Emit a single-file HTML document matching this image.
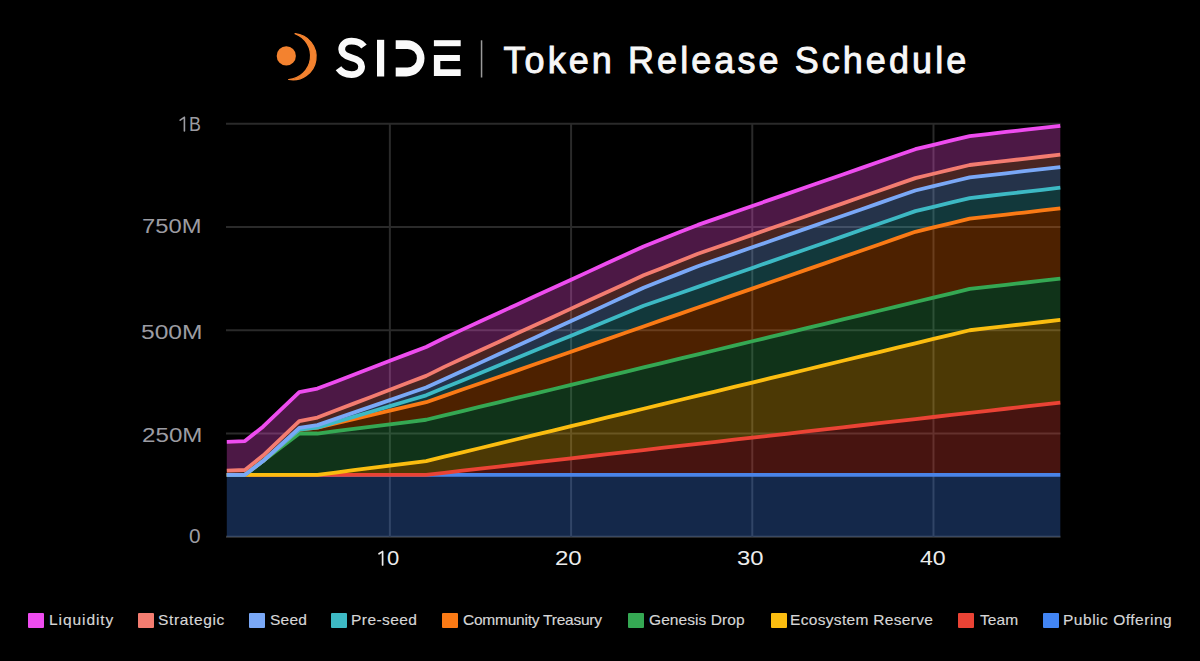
<!DOCTYPE html>
<html><head><meta charset="utf-8">
<style>
html,body{margin:0;padding:0;background:#000;}
body{width:1200px;height:661px;position:relative;overflow:hidden;font-family:"Liberation Sans",sans-serif;}
svg{position:absolute;left:0;top:0;}
.yl{position:absolute;color:#9c9ca2;font-size:20px;line-height:20px;white-space:nowrap;transform-origin:0 0;}
.xl{position:absolute;top:548px;color:#ececec;font-size:20px;line-height:20px;white-space:nowrap;transform-origin:0 0;}
.lb{position:absolute;top:612.5px;width:16px;height:15.5px;border-radius:1px;}
.lt{position:absolute;top:613.3px;color:#d6d6d6;font-size:14.5px;line-height:14.5px;white-space:nowrap;-webkit-text-stroke:0.15px #d6d6d6;transform:scaleX(1.07);transform-origin:0 0;}
.title{position:absolute;left:503.5px;top:38.7px;color:#f7f7f7;font-size:36px;font-weight:400;letter-spacing:3.07px;-webkit-text-stroke:0.9px #f7f7f7;line-height:44px;white-space:nowrap;}
</style></head><body>
<svg width="1200" height="661" viewBox="0 0 1200 661">
<line x1="226" y1="536.80" x2="1060.5" y2="536.80" stroke="#383838" stroke-width="2"/>
<line x1="226" y1="433.52" x2="1060.5" y2="433.52" stroke="#2a2a2a" stroke-width="2"/>
<line x1="226" y1="330.25" x2="1060.5" y2="330.25" stroke="#2a2a2a" stroke-width="2"/>
<line x1="226" y1="226.97" x2="1060.5" y2="226.97" stroke="#2a2a2a" stroke-width="2"/>
<line x1="226" y1="123.70" x2="1060.5" y2="123.70" stroke="#2a2a2a" stroke-width="2"/>
<line x1="389.88" y1="123.70" x2="389.88" y2="536.80" stroke="#2a2a2a" stroke-width="2"/>
<line x1="571.08" y1="123.70" x2="571.08" y2="536.80" stroke="#2a2a2a" stroke-width="2"/>
<line x1="752.28" y1="123.70" x2="752.28" y2="536.80" stroke="#2a2a2a" stroke-width="2"/>
<line x1="933.48" y1="123.70" x2="933.48" y2="536.80" stroke="#2a2a2a" stroke-width="2"/>
<polygon points="226.80,474.83 244.92,474.83 263.04,474.83 281.16,474.83 299.28,474.83 317.40,474.83 335.52,474.83 353.64,474.83 371.76,474.83 389.88,474.83 408.00,474.83 426.12,474.83 444.24,474.83 462.36,474.83 480.48,474.83 498.60,474.83 516.72,474.83 534.84,474.83 552.96,474.83 571.08,474.83 589.20,474.83 607.32,474.83 625.44,474.83 643.56,474.83 661.68,474.83 679.80,474.83 697.92,474.83 716.04,474.83 734.16,474.83 752.28,474.83 770.40,474.83 788.52,474.83 806.64,474.83 824.76,474.83 842.88,474.83 861.00,474.83 879.12,474.83 897.24,474.83 915.36,474.83 933.48,474.83 951.60,474.83 969.72,474.83 987.84,474.83 1005.96,474.83 1024.08,474.83 1042.20,474.83 1060.32,474.83 1060.32,536.80 1042.20,536.80 1024.08,536.80 1005.96,536.80 987.84,536.80 969.72,536.80 951.60,536.80 933.48,536.80 915.36,536.80 897.24,536.80 879.12,536.80 861.00,536.80 842.88,536.80 824.76,536.80 806.64,536.80 788.52,536.80 770.40,536.80 752.28,536.80 734.16,536.80 716.04,536.80 697.92,536.80 679.80,536.80 661.68,536.80 643.56,536.80 625.44,536.80 607.32,536.80 589.20,536.80 571.08,536.80 552.96,536.80 534.84,536.80 516.72,536.80 498.60,536.80 480.48,536.80 462.36,536.80 444.24,536.80 426.12,536.80 408.00,536.80 389.88,536.80 371.76,536.80 353.64,536.80 335.52,536.80 317.40,536.80 299.28,536.80 281.16,536.80 263.04,536.80 244.92,536.80 226.80,536.80" fill="#4285f4" fill-opacity="0.3"/>
<polygon points="226.80,474.83 244.92,474.83 263.04,474.83 281.16,474.83 299.28,474.83 317.40,474.83 335.52,474.83 353.64,474.83 371.76,474.83 389.88,474.83 408.00,474.83 426.12,474.83 444.24,472.77 462.36,470.70 480.48,468.64 498.60,466.57 516.72,464.51 534.84,462.44 552.96,460.38 571.08,458.31 589.20,456.25 607.32,454.18 625.44,452.11 643.56,450.05 661.68,447.98 679.80,445.92 697.92,443.85 716.04,441.79 734.16,439.72 752.28,437.66 770.40,435.59 788.52,433.52 806.64,431.46 824.76,429.39 842.88,427.33 861.00,425.26 879.12,423.20 897.24,421.13 915.36,419.07 933.48,417.00 951.60,414.94 969.72,412.87 987.84,410.80 1005.96,408.74 1024.08,406.67 1042.20,404.61 1060.32,402.54 1060.32,474.83 1042.20,474.83 1024.08,474.83 1005.96,474.83 987.84,474.83 969.72,474.83 951.60,474.83 933.48,474.83 915.36,474.83 897.24,474.83 879.12,474.83 861.00,474.83 842.88,474.83 824.76,474.83 806.64,474.83 788.52,474.83 770.40,474.83 752.28,474.83 734.16,474.83 716.04,474.83 697.92,474.83 679.80,474.83 661.68,474.83 643.56,474.83 625.44,474.83 607.32,474.83 589.20,474.83 571.08,474.83 552.96,474.83 534.84,474.83 516.72,474.83 498.60,474.83 480.48,474.83 462.36,474.83 444.24,474.83 426.12,474.83 408.00,474.83 389.88,474.83 371.76,474.83 353.64,474.83 335.52,474.83 317.40,474.83 299.28,474.83 281.16,474.83 263.04,474.83 244.92,474.83 226.80,474.83" fill="#ea4335" fill-opacity="0.3"/>
<polygon points="226.80,474.83 244.92,474.83 263.04,474.83 281.16,474.83 299.28,474.83 317.40,474.83 335.52,472.54 353.64,470.24 371.76,467.95 389.88,465.65 408.00,463.36 426.12,461.06 444.24,456.70 462.36,452.34 480.48,447.98 498.60,443.62 516.72,439.26 534.84,434.90 552.96,430.54 571.08,426.18 589.20,421.82 607.32,417.46 625.44,413.10 643.56,408.74 661.68,404.38 679.80,400.02 697.92,395.66 716.04,391.30 734.16,386.94 752.28,382.58 770.40,378.22 788.52,373.85 806.64,369.49 824.76,365.13 842.88,360.77 861.00,356.41 879.12,352.05 897.24,347.69 915.36,343.33 933.48,338.97 951.60,334.61 969.72,330.25 987.84,328.18 1005.96,326.12 1024.08,324.05 1042.20,321.99 1060.32,319.92 1060.32,402.54 1042.20,404.61 1024.08,406.67 1005.96,408.74 987.84,410.80 969.72,412.87 951.60,414.94 933.48,417.00 915.36,419.07 897.24,421.13 879.12,423.20 861.00,425.26 842.88,427.33 824.76,429.39 806.64,431.46 788.52,433.52 770.40,435.59 752.28,437.66 734.16,439.72 716.04,441.79 697.92,443.85 679.80,445.92 661.68,447.98 643.56,450.05 625.44,452.11 607.32,454.18 589.20,456.25 571.08,458.31 552.96,460.38 534.84,462.44 516.72,464.51 498.60,466.57 480.48,468.64 462.36,470.70 444.24,472.77 426.12,474.83 408.00,474.83 389.88,474.83 371.76,474.83 353.64,474.83 335.52,474.83 317.40,474.83 299.28,474.83 281.16,474.83 263.04,474.83 244.92,474.83 226.80,474.83" fill="#fbbd10" fill-opacity="0.3"/>
<polygon points="226.80,474.83 244.92,474.83 263.04,461.06 281.16,447.29 299.28,433.52 317.40,433.52 335.52,431.23 353.64,428.93 371.76,426.64 389.88,424.34 408.00,422.05 426.12,419.75 444.24,415.39 462.36,411.03 480.48,406.67 498.60,402.31 516.72,397.95 534.84,393.59 552.96,389.23 571.08,384.87 589.20,380.51 607.32,376.15 625.44,371.79 643.56,367.43 661.68,363.07 679.80,358.71 697.92,354.35 716.04,349.99 734.16,345.63 752.28,341.27 770.40,336.91 788.52,332.54 806.64,328.18 824.76,323.82 842.88,319.46 861.00,315.10 879.12,310.74 897.24,306.38 915.36,302.02 933.48,297.66 951.60,293.30 969.72,288.94 987.84,286.87 1005.96,284.81 1024.08,282.74 1042.20,280.68 1060.32,278.61 1060.32,319.92 1042.20,321.99 1024.08,324.05 1005.96,326.12 987.84,328.18 969.72,330.25 951.60,334.61 933.48,338.97 915.36,343.33 897.24,347.69 879.12,352.05 861.00,356.41 842.88,360.77 824.76,365.13 806.64,369.49 788.52,373.85 770.40,378.22 752.28,382.58 734.16,386.94 716.04,391.30 697.92,395.66 679.80,400.02 661.68,404.38 643.56,408.74 625.44,413.10 607.32,417.46 589.20,421.82 571.08,426.18 552.96,430.54 534.84,434.90 516.72,439.26 498.60,443.62 480.48,447.98 462.36,452.34 444.24,456.70 426.12,461.06 408.00,463.36 389.88,465.65 371.76,467.95 353.64,470.24 335.52,472.54 317.40,474.83 299.28,474.83 281.16,474.83 263.04,474.83 244.92,474.83 226.80,474.83" fill="#35a853" fill-opacity="0.3"/>
<polygon points="226.80,474.83 244.92,474.83 263.04,461.06 281.16,445.34 299.28,429.62 317.40,427.67 335.52,423.43 353.64,419.18 371.76,414.94 389.88,410.69 408.00,406.44 426.12,402.20 444.24,395.89 462.36,389.58 480.48,383.26 498.60,376.95 516.72,370.64 534.84,364.33 552.96,358.02 571.08,351.71 589.20,345.40 607.32,339.09 625.44,332.77 643.56,326.46 661.68,320.15 679.80,313.84 697.92,307.53 716.04,301.22 734.16,294.91 752.28,288.60 770.40,282.28 788.52,275.97 806.64,269.66 824.76,263.35 842.88,257.04 861.00,250.73 879.12,244.42 897.24,238.11 915.36,231.79 933.48,227.43 951.60,223.07 969.72,218.71 987.84,216.65 1005.96,214.58 1024.08,212.52 1042.20,210.45 1060.32,208.39 1060.32,278.61 1042.20,280.68 1024.08,282.74 1005.96,284.81 987.84,286.87 969.72,288.94 951.60,293.30 933.48,297.66 915.36,302.02 897.24,306.38 879.12,310.74 861.00,315.10 842.88,319.46 824.76,323.82 806.64,328.18 788.52,332.54 770.40,336.91 752.28,341.27 734.16,345.63 716.04,349.99 697.92,354.35 679.80,358.71 661.68,363.07 643.56,367.43 625.44,371.79 607.32,376.15 589.20,380.51 571.08,384.87 552.96,389.23 534.84,393.59 516.72,397.95 498.60,402.31 480.48,406.67 462.36,411.03 444.24,415.39 426.12,419.75 408.00,422.05 389.88,424.34 371.76,426.64 353.64,428.93 335.52,431.23 317.40,433.52 299.28,433.52 281.16,447.29 263.04,461.06 244.92,474.83 226.80,474.83" fill="#ff6e00" fill-opacity="0.3"/>
<polygon points="226.80,474.83 244.92,474.83 263.04,461.06 281.16,445.34 299.28,429.62 317.40,427.67 335.52,422.28 353.64,416.89 371.76,411.49 389.88,406.10 408.00,400.71 426.12,395.31 444.24,387.85 462.36,380.40 480.48,372.94 498.60,365.48 516.72,358.02 534.84,350.56 552.96,343.10 571.08,335.64 589.20,328.18 607.32,320.73 625.44,313.27 643.56,305.81 661.68,299.50 679.80,293.19 697.92,286.87 716.04,280.56 734.16,274.25 752.28,267.94 770.40,261.63 788.52,255.32 806.64,249.01 824.76,242.70 842.88,236.38 861.00,230.07 879.12,223.76 897.24,217.45 915.36,211.14 933.48,206.78 951.60,202.42 969.72,198.06 987.84,195.99 1005.96,193.93 1024.08,191.86 1042.20,189.80 1060.32,187.73 1060.32,208.39 1042.20,210.45 1024.08,212.52 1005.96,214.58 987.84,216.65 969.72,218.71 951.60,223.07 933.48,227.43 915.36,231.79 897.24,238.11 879.12,244.42 861.00,250.73 842.88,257.04 824.76,263.35 806.64,269.66 788.52,275.97 770.40,282.28 752.28,288.60 734.16,294.91 716.04,301.22 697.92,307.53 679.80,313.84 661.68,320.15 643.56,326.46 625.44,332.77 607.32,339.09 589.20,345.40 571.08,351.71 552.96,358.02 534.84,364.33 516.72,370.64 498.60,376.95 480.48,383.26 462.36,389.58 444.24,395.89 426.12,402.20 408.00,406.44 389.88,410.69 371.76,414.94 353.64,419.18 335.52,423.43 317.40,427.67 299.28,429.62 281.16,445.34 263.04,461.06 244.92,474.83 226.80,474.83" fill="#3db9c4" fill-opacity="0.3"/>
<polygon points="226.80,474.83 244.92,474.83 263.04,461.06 281.16,444.48 299.28,427.90 317.40,425.09 335.52,418.84 353.64,412.58 371.76,406.33 389.88,400.08 408.00,393.82 426.12,387.57 444.24,379.25 462.36,370.93 480.48,362.61 498.60,354.29 516.72,345.97 534.84,337.65 552.96,329.33 571.08,321.01 589.20,312.69 607.32,304.37 625.44,296.05 643.56,287.74 661.68,280.56 679.80,273.39 697.92,266.22 716.04,259.91 734.16,253.60 752.28,247.29 770.40,240.97 788.52,234.66 806.64,228.35 824.76,222.04 842.88,215.73 861.00,209.42 879.12,203.11 897.24,196.80 915.36,190.48 933.48,186.12 951.60,181.76 969.72,177.40 987.84,175.34 1005.96,173.27 1024.08,171.21 1042.20,169.14 1060.32,167.08 1060.32,187.73 1042.20,189.80 1024.08,191.86 1005.96,193.93 987.84,195.99 969.72,198.06 951.60,202.42 933.48,206.78 915.36,211.14 897.24,217.45 879.12,223.76 861.00,230.07 842.88,236.38 824.76,242.70 806.64,249.01 788.52,255.32 770.40,261.63 752.28,267.94 734.16,274.25 716.04,280.56 697.92,286.87 679.80,293.19 661.68,299.50 643.56,305.81 625.44,313.27 607.32,320.73 589.20,328.18 571.08,335.64 552.96,343.10 534.84,350.56 516.72,358.02 498.60,365.48 480.48,372.94 462.36,380.40 444.24,387.85 426.12,395.31 408.00,400.71 389.88,406.10 371.76,411.49 353.64,416.89 335.52,422.28 317.40,427.67 299.28,429.62 281.16,445.34 263.04,461.06 244.92,474.83 226.80,474.83" fill="#7aa8f6" fill-opacity="0.3"/>
<polygon points="226.80,470.70 244.92,470.02 263.04,455.56 281.16,438.29 299.28,421.02 317.40,417.52 335.52,410.57 353.64,403.63 371.76,396.69 389.88,389.75 408.00,382.81 426.12,375.86 444.24,366.86 462.36,358.54 480.48,350.22 498.60,341.90 516.72,333.58 534.84,325.26 552.96,316.94 571.08,308.62 589.20,300.30 607.32,291.98 625.44,283.66 643.56,275.34 661.68,268.17 679.80,261.00 697.92,253.83 716.04,247.52 734.16,241.20 752.28,234.89 770.40,228.58 788.52,222.27 806.64,215.96 824.76,209.65 842.88,203.34 861.00,197.03 879.12,190.71 897.24,184.40 915.36,178.09 933.48,173.73 951.60,169.37 969.72,165.01 987.84,162.94 1005.96,160.88 1024.08,158.81 1042.20,156.75 1060.32,154.68 1060.32,167.08 1042.20,169.14 1024.08,171.21 1005.96,173.27 987.84,175.34 969.72,177.40 951.60,181.76 933.48,186.12 915.36,190.48 897.24,196.80 879.12,203.11 861.00,209.42 842.88,215.73 824.76,222.04 806.64,228.35 788.52,234.66 770.40,240.97 752.28,247.29 734.16,253.60 716.04,259.91 697.92,266.22 679.80,273.39 661.68,280.56 643.56,287.74 625.44,296.05 607.32,304.37 589.20,312.69 571.08,321.01 552.96,329.33 534.84,337.65 516.72,345.97 498.60,354.29 480.48,362.61 462.36,370.93 444.24,379.25 426.12,387.57 408.00,393.82 389.88,400.08 371.76,406.33 353.64,412.58 335.52,418.84 317.40,425.09 299.28,427.90 281.16,444.48 263.04,461.06 244.92,474.83 226.80,474.83" fill="#f37c70" fill-opacity="0.3"/>
<polygon points="226.80,441.79 244.92,441.10 263.04,426.64 281.16,409.37 299.28,392.10 317.40,388.60 335.52,381.66 353.64,374.72 371.76,367.77 389.88,360.83 408.00,353.89 426.12,346.95 444.24,337.94 462.36,329.62 480.48,321.30 498.60,312.98 516.72,304.66 534.84,296.34 552.96,288.02 571.08,279.70 589.20,271.38 607.32,263.06 625.44,254.74 643.56,246.43 661.68,239.25 679.80,232.08 697.92,224.91 716.04,218.60 734.16,212.29 752.28,205.98 770.40,199.66 788.52,193.35 806.64,187.04 824.76,180.73 842.88,174.42 861.00,168.11 879.12,161.80 897.24,155.49 915.36,149.17 933.48,144.81 951.60,140.45 969.72,136.09 987.84,134.03 1005.96,131.96 1024.08,129.90 1042.20,127.83 1060.32,125.77 1060.32,154.68 1042.20,156.75 1024.08,158.81 1005.96,160.88 987.84,162.94 969.72,165.01 951.60,169.37 933.48,173.73 915.36,178.09 897.24,184.40 879.12,190.71 861.00,197.03 842.88,203.34 824.76,209.65 806.64,215.96 788.52,222.27 770.40,228.58 752.28,234.89 734.16,241.20 716.04,247.52 697.92,253.83 679.80,261.00 661.68,268.17 643.56,275.34 625.44,283.66 607.32,291.98 589.20,300.30 571.08,308.62 552.96,316.94 534.84,325.26 516.72,333.58 498.60,341.90 480.48,350.22 462.36,358.54 444.24,366.86 426.12,375.86 408.00,382.81 389.88,389.75 371.76,396.69 353.64,403.63 335.52,410.57 317.40,417.52 299.28,421.02 281.16,438.29 263.04,455.56 244.92,470.02 226.80,470.70" fill="#fd50e6" fill-opacity="0.3"/>
<polyline points="226.80,474.83 244.92,474.83 263.04,474.83 281.16,474.83 299.28,474.83 317.40,474.83 335.52,474.83 353.64,474.83 371.76,474.83 389.88,474.83 408.00,474.83 426.12,474.83 444.24,474.83 462.36,474.83 480.48,474.83 498.60,474.83 516.72,474.83 534.84,474.83 552.96,474.83 571.08,474.83 589.20,474.83 607.32,474.83 625.44,474.83 643.56,474.83 661.68,474.83 679.80,474.83 697.92,474.83 716.04,474.83 734.16,474.83 752.28,474.83 770.40,474.83 788.52,474.83 806.64,474.83 824.76,474.83 842.88,474.83 861.00,474.83 879.12,474.83 897.24,474.83 915.36,474.83 933.48,474.83 951.60,474.83 969.72,474.83 987.84,474.83 1005.96,474.83 1024.08,474.83 1042.20,474.83 1060.32,474.83" fill="none" stroke="#4a84e8" stroke-width="3.8" stroke-linejoin="round"/>
<polyline points="226.80,474.83 244.92,474.83 263.04,474.83 281.16,474.83 299.28,474.83 317.40,474.83 335.52,474.83 353.64,474.83 371.76,474.83 389.88,474.83 408.00,474.83 426.12,474.83 444.24,472.77 462.36,470.70 480.48,468.64 498.60,466.57 516.72,464.51 534.84,462.44 552.96,460.38 571.08,458.31 589.20,456.25 607.32,454.18 625.44,452.11 643.56,450.05 661.68,447.98 679.80,445.92 697.92,443.85 716.04,441.79 734.16,439.72 752.28,437.66 770.40,435.59 788.52,433.52 806.64,431.46 824.76,429.39 842.88,427.33 861.00,425.26 879.12,423.20 897.24,421.13 915.36,419.07 933.48,417.00 951.60,414.94 969.72,412.87 987.84,410.80 1005.96,408.74 1024.08,406.67 1042.20,404.61 1060.32,402.54" fill="none" stroke="#ea4335" stroke-width="3.8" stroke-linejoin="round"/>
<polyline points="226.80,474.83 244.92,474.83 263.04,474.83 281.16,474.83 299.28,474.83 317.40,474.83 335.52,472.54 353.64,470.24 371.76,467.95 389.88,465.65 408.00,463.36 426.12,461.06 444.24,456.70 462.36,452.34 480.48,447.98 498.60,443.62 516.72,439.26 534.84,434.90 552.96,430.54 571.08,426.18 589.20,421.82 607.32,417.46 625.44,413.10 643.56,408.74 661.68,404.38 679.80,400.02 697.92,395.66 716.04,391.30 734.16,386.94 752.28,382.58 770.40,378.22 788.52,373.85 806.64,369.49 824.76,365.13 842.88,360.77 861.00,356.41 879.12,352.05 897.24,347.69 915.36,343.33 933.48,338.97 951.60,334.61 969.72,330.25 987.84,328.18 1005.96,326.12 1024.08,324.05 1042.20,321.99 1060.32,319.92" fill="none" stroke="#fbbd10" stroke-width="3.8" stroke-linejoin="round"/>
<polyline points="226.80,474.83 244.92,474.83 263.04,461.06 281.16,447.29 299.28,433.52 317.40,433.52 335.52,431.23 353.64,428.93 371.76,426.64 389.88,424.34 408.00,422.05 426.12,419.75 444.24,415.39 462.36,411.03 480.48,406.67 498.60,402.31 516.72,397.95 534.84,393.59 552.96,389.23 571.08,384.87 589.20,380.51 607.32,376.15 625.44,371.79 643.56,367.43 661.68,363.07 679.80,358.71 697.92,354.35 716.04,349.99 734.16,345.63 752.28,341.27 770.40,336.91 788.52,332.54 806.64,328.18 824.76,323.82 842.88,319.46 861.00,315.10 879.12,310.74 897.24,306.38 915.36,302.02 933.48,297.66 951.60,293.30 969.72,288.94 987.84,286.87 1005.96,284.81 1024.08,282.74 1042.20,280.68 1060.32,278.61" fill="none" stroke="#35a853" stroke-width="3.8" stroke-linejoin="round"/>
<polyline points="226.80,474.83 244.92,474.83 263.04,461.06 281.16,445.34 299.28,429.62 317.40,427.67 335.52,423.43 353.64,419.18 371.76,414.94 389.88,410.69 408.00,406.44 426.12,402.20 444.24,395.89 462.36,389.58 480.48,383.26 498.60,376.95 516.72,370.64 534.84,364.33 552.96,358.02 571.08,351.71 589.20,345.40 607.32,339.09 625.44,332.77 643.56,326.46 661.68,320.15 679.80,313.84 697.92,307.53 716.04,301.22 734.16,294.91 752.28,288.60 770.40,282.28 788.52,275.97 806.64,269.66 824.76,263.35 842.88,257.04 861.00,250.73 879.12,244.42 897.24,238.11 915.36,231.79 933.48,227.43 951.60,223.07 969.72,218.71 987.84,216.65 1005.96,214.58 1024.08,212.52 1042.20,210.45 1060.32,208.39" fill="none" stroke="#fa7a15" stroke-width="3.8" stroke-linejoin="round"/>
<polyline points="226.80,474.83 244.92,474.83 263.04,461.06 281.16,445.34 299.28,429.62 317.40,427.67 335.52,422.28 353.64,416.89 371.76,411.49 389.88,406.10 408.00,400.71 426.12,395.31 444.24,387.85 462.36,380.40 480.48,372.94 498.60,365.48 516.72,358.02 534.84,350.56 552.96,343.10 571.08,335.64 589.20,328.18 607.32,320.73 625.44,313.27 643.56,305.81 661.68,299.50 679.80,293.19 697.92,286.87 716.04,280.56 734.16,274.25 752.28,267.94 770.40,261.63 788.52,255.32 806.64,249.01 824.76,242.70 842.88,236.38 861.00,230.07 879.12,223.76 897.24,217.45 915.36,211.14 933.48,206.78 951.60,202.42 969.72,198.06 987.84,195.99 1005.96,193.93 1024.08,191.86 1042.20,189.80 1060.32,187.73" fill="none" stroke="#3db9c4" stroke-width="3.8" stroke-linejoin="round"/>
<polyline points="226.80,474.83 244.92,474.83 263.04,461.06 281.16,444.48 299.28,427.90 317.40,425.09 335.52,418.84 353.64,412.58 371.76,406.33 389.88,400.08 408.00,393.82 426.12,387.57 444.24,379.25 462.36,370.93 480.48,362.61 498.60,354.29 516.72,345.97 534.84,337.65 552.96,329.33 571.08,321.01 589.20,312.69 607.32,304.37 625.44,296.05 643.56,287.74 661.68,280.56 679.80,273.39 697.92,266.22 716.04,259.91 734.16,253.60 752.28,247.29 770.40,240.97 788.52,234.66 806.64,228.35 824.76,222.04 842.88,215.73 861.00,209.42 879.12,203.11 897.24,196.80 915.36,190.48 933.48,186.12 951.60,181.76 969.72,177.40 987.84,175.34 1005.96,173.27 1024.08,171.21 1042.20,169.14 1060.32,167.08" fill="none" stroke="#7aa8f6" stroke-width="3.8" stroke-linejoin="round"/>
<polyline points="226.80,470.70 244.92,470.02 263.04,455.56 281.16,438.29 299.28,421.02 317.40,417.52 335.52,410.57 353.64,403.63 371.76,396.69 389.88,389.75 408.00,382.81 426.12,375.86 444.24,366.86 462.36,358.54 480.48,350.22 498.60,341.90 516.72,333.58 534.84,325.26 552.96,316.94 571.08,308.62 589.20,300.30 607.32,291.98 625.44,283.66 643.56,275.34 661.68,268.17 679.80,261.00 697.92,253.83 716.04,247.52 734.16,241.20 752.28,234.89 770.40,228.58 788.52,222.27 806.64,215.96 824.76,209.65 842.88,203.34 861.00,197.03 879.12,190.71 897.24,184.40 915.36,178.09 933.48,173.73 951.60,169.37 969.72,165.01 987.84,162.94 1005.96,160.88 1024.08,158.81 1042.20,156.75 1060.32,154.68" fill="none" stroke="#f37c70" stroke-width="3.8" stroke-linejoin="round"/>
<polyline points="226.80,441.79 244.92,441.10 263.04,426.64 281.16,409.37 299.28,392.10 317.40,388.60 335.52,381.66 353.64,374.72 371.76,367.77 389.88,360.83 408.00,353.89 426.12,346.95 444.24,337.94 462.36,329.62 480.48,321.30 498.60,312.98 516.72,304.66 534.84,296.34 552.96,288.02 571.08,279.70 589.20,271.38 607.32,263.06 625.44,254.74 643.56,246.43 661.68,239.25 679.80,232.08 697.92,224.91 716.04,218.60 734.16,212.29 752.28,205.98 770.40,199.66 788.52,193.35 806.64,187.04 824.76,180.73 842.88,174.42 861.00,168.11 879.12,161.80 897.24,155.49 915.36,149.17 933.48,144.81 951.60,140.45 969.72,136.09 987.84,134.03 1005.96,131.96 1024.08,129.90 1042.20,127.83 1060.32,125.77" fill="none" stroke="#ee4cef" stroke-width="3.8" stroke-linejoin="round"/>
<circle cx="286.3" cy="55.9" r="9.6" fill="#f3822f"/>
<path d="M295 33.6 A23.2 23.2 0 1 1 288.6 79.5 A23.7 23.7 0 0 0 295 33.6 Z" fill="#f3822f" stroke="#f3822f" stroke-width="1.2" stroke-linejoin="round"/>
<path fill="none" stroke="#fafafa" stroke-width="6.8" d="M364 46.5 C361 42.5 357 41.2 351.5 41.2 C345.5 41.2 341.7 44.6 341.7 49.3 C341.7 54.3 346 56.3 351.5 57.7 C357.5 59.2 361.6 61.8 361.6 66.4 C361.6 71.5 357.3 74.6 351.5 74.6 C345.8 74.6 341.3 72.3 338.5 68.3"/>
<rect x="377" y="39.8" width="7.2" height="36.7" fill="#fafafa"/>
<path d="M395.7 40.2 H406.35 A18.15 18.15 0 0 1 406.35 76.5 H395.7 V67.5 H407.6 A9.3 9.3 0 0 0 407.6 48.9 H395.7 Z" fill="#fafafa"/>
<rect x="433.9" y="40.2" width="26.8" height="6" fill="#fafafa"/>
<path d="M433.9 54.9 H459.9 V61 H440.3 V69.3 H460.7 V76.1 H433.9 Z" fill="#fafafa"/>
<path d="M184.4 117.3 V131 M180.2 120.2 L184.2 117.4" stroke="#9c9ca2" stroke-width="1.6" fill="none" stroke-linecap="round"/>
<path d="M382.6 551.5 V565 M379 553.8 L382.4 551.6" stroke="#ececec" stroke-width="1.7" fill="none" stroke-linecap="round"/>
<rect x="480.8" y="40.3" width="1.5" height="37.2" fill="#9a9a9a"/>
</svg>
<div class="title">Token Release Schedule</div>
<div class="yl" style="left:189.11px;top:114.2px;transform:scaleX(0.8917)">B</div><div class="yl" style="left:142.11px;top:215.6px;transform:scaleX(1.1875)">750M</div><div class="yl" style="left:140.77px;top:321.8px;transform:scaleX(1.2292)">500M</div><div class="yl" style="left:141.79px;top:425px;transform:scaleX(1.2083)">250M</div><div class="yl" style="left:188.96px;top:526px;transform:scaleX(1.04)">0</div>
<div class="xl" style="left:386.9px;transform:scaleX(1.1)">0</div><div class="xl" style="left:555.2px;transform:scaleX(1.2)">20</div><div class="xl" style="left:736.81px;transform:scaleX(1.1905)">30</div><div class="xl" style="left:920.4px;transform:scaleX(1.1545)">40</div>
<div class="lb" style="left:28px;background:#ee4cef"></div><div class="lt" style="left:48.93px;letter-spacing:0.86px">Liquidity</div><div class="lb" style="left:138.3px;background:#f37c70"></div><div class="lt" style="left:158.23px;letter-spacing:0.582px">Strategic</div><div class="lb" style="left:249.2px;background:#7aa8f6"></div><div class="lt" style="left:269.83px;letter-spacing:0.237px">Seed</div><div class="lb" style="left:330.8px;background:#3db9c4"></div><div class="lt" style="left:350.93px;letter-spacing:0.402px">Pre-seed</div><div class="lb" style="left:441.7px;background:#fa7a15"></div><div class="lt" style="left:462.7px;letter-spacing:-0.224px">Community Treasury</div><div class="lb" style="left:628.3px;background:#35a853"></div><div class="lt" style="left:649.0px;letter-spacing:0.071px">Genesis Drop</div><div class="lb" style="left:770.7px;background:#fbbd10"></div><div class="lt" style="left:789.93px;letter-spacing:0.294px">Ecosystem Reserve</div><div class="lb" style="left:958.3px;background:#ea4335"></div><div class="lt" style="left:980.0px;letter-spacing:0.078px">Team</div><div class="lb" style="left:1043.3px;background:#4285f4"></div><div class="lt" style="left:1063.23px;letter-spacing:0.48px">Public Offering</div>
</body></html>
